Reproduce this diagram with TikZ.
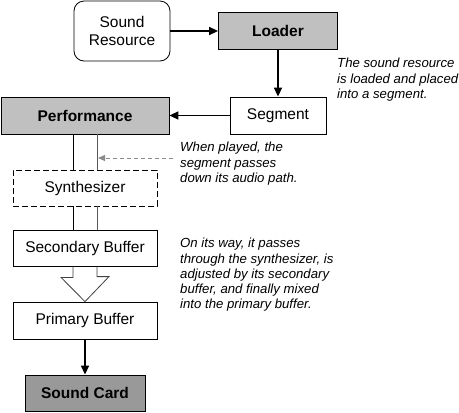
\documentclass[tikz,border=0pt]{standalone}
\usepackage{fontspec}
\setmainfont{Liberation Sans}
\usetikzlibrary{arrows.meta,shapes}
\definecolor{boxgray}{HTML}{C0C0C0}
\definecolor{cardgray}{HTML}{999999}
\begin{document}
\begin{tikzpicture}[x=1pt,y=-1pt,
  box/.style={draw,line width=0.8pt,inner sep=0pt,minimum height=37pt,align=center,font=\fontsize{15.5}{17.5}\selectfont},
  note/.style={anchor=north west,inner sep=0pt,align=left,font=\fontsize{13.2}{15.3}\selectfont\itshape},
  conn/.style={line width=1.6pt,-{Triangle[length=9pt,width=8pt]}}]
\useasboundingbox (0,0) rectangle (459,413);
\node[box,rounded corners=10pt,minimum width=96pt,minimum height=60pt] (res) at (122,31) {Sound\\Resource};
\node[box,fill=boxgray,minimum width=119pt,font=\fontsize{15.5}{17.5}\selectfont\bfseries] (load) at (278,31) {Loader};
\node[box,minimum width=96pt] (seg) at (278,115.5) {Segment};
\node[box,fill=boxgray,minimum width=168pt,font=\fontsize{15.5}{17.5}\selectfont\bfseries] (perf) at (85,115.5) {Performance};
\node[box,dash pattern=on 6pt off 3pt,minimum width=144pt,minimum height=36pt] (synth) at (85,188) {Synthesizer};
\node[box,minimum width=144pt,minimum height=36pt] (sec) at (85,248) {Secondary Buffer};
\node[box,minimum width=144pt] (prim) at (85,320.5) {Primary Buffer};
\node[box,fill=cardgray,minimum width=120pt,minimum height=36pt,font=\fontsize{15.5}{17.5}\selectfont\bfseries] (card) at (85,393) {Sound Card};
% notes
\node[note] (n1) at (337,58) {The sound resource\\is loaded and placed\\into a segment.};
\node[note] (n2) at (180,142) {When played, the\\segment passes\\down its audio path.};
\node[note] (n3) at (180,238) {On its way, it passes\\through the synthesizer, is\\adjusted by its secondary\\buffer, and finally mixed\\into the primary buffer.};
% connectors
\draw[conn] (res) -- (load);
\draw[conn] (load) -- (seg);
\draw[conn] (seg) -- (perf);
\draw[conn] (prim) -- (card);
% audio path
\draw[line width=0.8pt] ([xshift=-12pt]perf.south) -- ([xshift=-12pt]synth.north);
\draw[line width=0.8pt,black!65] ([xshift=12pt]perf.south) -- ([xshift=12pt]synth.north);
\draw[line width=0.8pt] ([xshift=-12pt]synth.south) -- ([xshift=-12pt]sec.north);
\draw[line width=0.8pt,black!65] ([xshift=12pt]synth.south) -- ([xshift=12pt]sec.north);
\draw[line width=0.8pt,black!75,line join=miter] ([xshift=-12pt]sec.south) -- ++(0,11) -- ++(-12,0) -- (prim.north) -- ++(24,-25) -- ++(-12,0) -- ([xshift=12pt]sec.south);
\coordinate (from) at (173,158);
\coordinate (tap) at (98,158);
\draw[black!45,line width=0.8pt,dash pattern=on 4pt off 3pt,-{Triangle[length=7pt,width=6pt]}] (from) -- (tap);
\end{tikzpicture}
\end{document}
